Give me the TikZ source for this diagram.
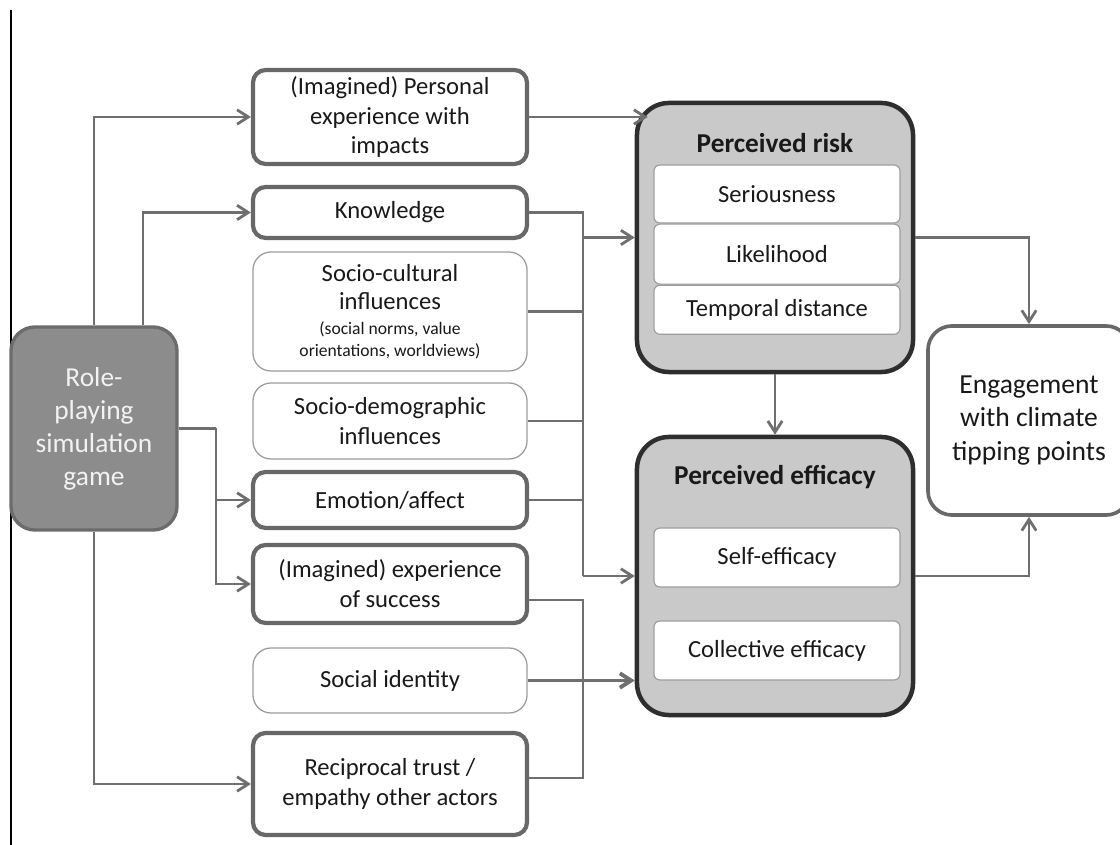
\documentclass[tikz,border=0pt]{standalone}
\usepackage{fontspec}
\setmainfont{Carlito}
\usepackage{tikz}
\usetikzlibrary{positioning,calc,arrows.meta}

\definecolor{linegray}{HTML}{6F6F6F}
\definecolor{boxgray}{HTML}{686868}
\definecolor{thingray}{HTML}{9C9C9C}
\definecolor{gamefill}{HTML}{8C8C8C}
\definecolor{gameborder}{HTML}{6C6C6C}
\definecolor{panelfill}{HTML}{C9C9C9}
\definecolor{paneldraw}{HTML}{2E2E2E}
\newcommand{\notefont}{\fontsize{12.5}{15.6}\selectfont}

\begin{document}
\begin{tikzpicture}[x=0.025cm, y=-0.025cm, >={Straight Barb[length=2.8mm,width=3.6mm]},
    every node/.style={align=center, inner sep=0pt, text=black!90, font=\fontsize{17.5}{21.3}\selectfont},
    strongbox/.style={rectangle, rounded corners=3.2mm, draw=boxgray, line width=3pt, fill=white, minimum width=6.85cm},
    softbox/.style={rectangle, rounded corners=4.5mm, draw=thingray, line width=0.9pt, fill=white, minimum width=6.85cm},
    gamebox/.style={rectangle, rounded corners=6mm, draw=gameborder, line width=2.4pt, fill=gamefill, text=white!95!black, font=\fontsize{19.5}{23.5}\selectfont},
    panel/.style={rectangle, rounded corners=8mm, draw=paneldraw, line width=3.2pt, fill=panelfill, minimum width=6.9cm},
    paneltitle/.style={font=\fontsize{19.4}{23}\selectfont\bfseries},
    subbox/.style={rectangle, rounded corners=1.5mm, draw=thingray, line width=0.8pt, fill=white, minimum width=6.15cm},
    outbox/.style={rectangle, rounded corners=6mm, draw=boxgray, line width=2.6pt, fill=white, font=\fontsize{19.6}{23.5}\selectfont},
    link/.style={draw=linegray, line width=2pt}]
    \useasboundingbox (0,0) rectangle (1120,845);
    \draw [black, line width=0.8pt] (11,10) -- (11,845);

    % game and the factors it feeds
    \node (game) [gamebox, minimum width=4.15cm, minimum height=5.075cm] at (94,428.5) {Role-\\playing\\simulation\\game};
    \node (personal) [strongbox, minimum height=2.35cm] at (390,117) {(Imagined) Personal\\experience with\\impacts};
    \node (knowledge) [strongbox, minimum height=1.275cm] at (390,212.5) {Knowledge};
    \node (culture) [softbox, minimum height=2.975cm] at (390,311.5) {Socio-cultural\\[-1pt]influences\\[-4pt]\notefont (social norms, value\\[-5.7pt]\notefont orientations, worldviews)};
    \node (demography) [softbox, minimum height=1.9cm] at (390,421) {Socio-demographic\\influences};
    \node (emotion) [strongbox, minimum height=1.4cm] at (390,500) {Emotion/affect};
    \node (success) [strongbox, minimum height=1.95cm] at (390,584) {(Imagined) experience\\of success};
    \node (identity) [softbox, minimum height=1.625cm] at (390,680.5) {Social identity};
    \node (trust) [strongbox, minimum height=2.55cm] at (390,784) {Reciprocal trust /\\empathy other actors};

    % risk and efficacy panels
    \node (risk) [panel, minimum height=6.725cm] at (775,237.5) {};
    \node (risktitle) [paneltitle] at (775,143) {Perceived risk};
    \node (serious) [subbox, minimum height=1.45cm] at (777,194) {Seriousness};
    \node (likely) [subbox, minimum height=1.5cm, below=0pt of serious] {Likelihood};
    \node (temporal) [subbox, minimum height=1.225cm, below=0pt of likely] {Temporal distance};

    \node (efficacy) [panel, minimum height=6.95cm] at (775,576) {};
    \node (efficacytitle) [paneltitle] at (775,477) {Perceived efficacy};
    \node (selfeff) [subbox, minimum height=1.475cm] at (777,557.5) {Self-efficacy};
    \node (collective) [subbox, minimum height=1.475cm] at (777,650.5) {Collective efficacy};

    \node (engage) [outbox, minimum width=5.05cm, minimum height=4.725cm] at (1029,420.5) {Engagement\\with climate\\tipping points};

    % connectors
    \coordinate (bus) at (583,0);
    \coordinate (fork) at (216,428.5);
    \draw [link, ->] (game.north) |- (personal.west);
    \draw [link, ->] ([xshift=1.225cm]game.north) |- (knowledge.west);
    \draw [link] (game.east) -- (fork);
    \draw [link, ->] (fork) |- (emotion.west);
    \draw [link, ->] (fork) |- (success.west);
    \draw [link, ->] (game.south) |- (trust.west);

    \draw [link, ->] (personal.east) -- ([xshift=0.325cm]personal.east -| risk.west);
    \draw [link] (knowledge.east) -| (bus |- efficacy.west);
    \draw [link] (culture.east) -- (culture.east -| bus);
    \draw [link] (demography.east) -- (demography.east -| bus);
    \draw [link] (emotion.east) -- (emotion.east -| bus);
    \draw [link, ->] (bus |- risk.west) -- (risk.west);
    \draw [link, ->] (bus |- efficacy.west) -- (efficacy.west);

    \coordinate (successout) at ($(success.east)+(0,16)$);
    \coordinate (trustout) at ($(trust.east)+(0,-6)$);
    \draw [link] (successout) -| (bus |- trustout) -- (trustout);
    \draw [link] (identity.east) -- (identity.east -| bus);
    \draw [link, line width=2.8pt, ->] (identity.east -| bus) -- (identity.east -| efficacy.west);

    \draw [link, ->] (risk.south) -- (efficacy.north);
    \draw [link, ->] (risk.east) -| (engage.north);
    \draw [link, ->] (efficacy.east) -| (engage.south);
\end{tikzpicture}
\end{document}
